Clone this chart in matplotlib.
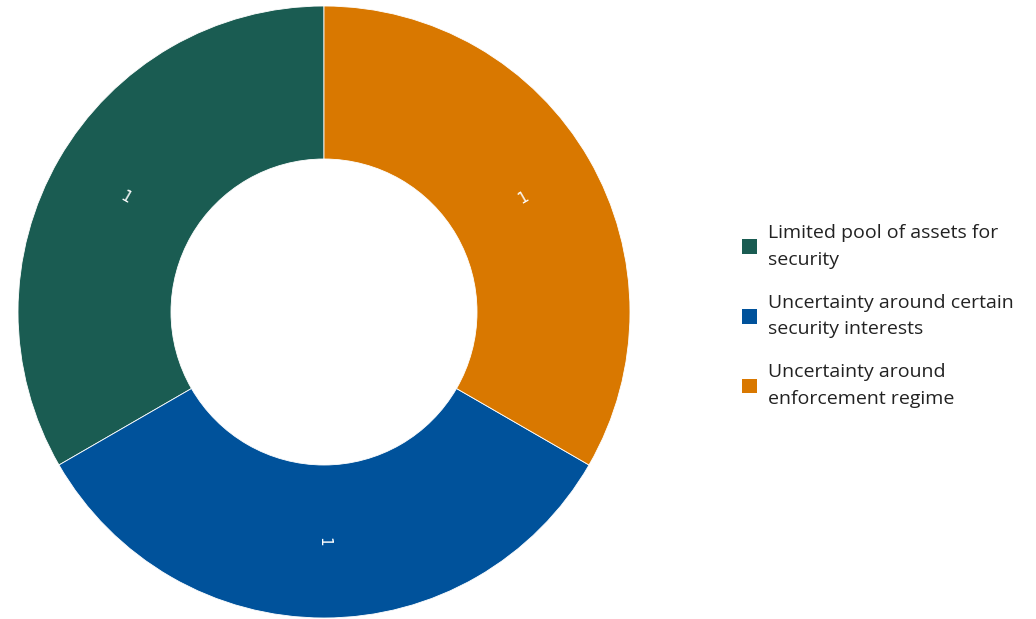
import matplotlib.pyplot as plt
from matplotlib.patches import Patch

categories = ['Limited pool of assets for\nsecurity',
              'Uncertainty around certain\nsecurity interests',
              'Uncertainty around\nenforcement regime']
values = [1, 1, 1]
colors = ['#1a5c52', '#00529b', '#d97800']

fig = plt.figure(figsize=(10.36, 6.19), dpi=100)
W, H = 1036, 619
cx, cy, r = 324, 312, 306
ax = fig.add_axes([(cx - r) / W, (H - cy - r) / H, 2 * r / W, 2 * r / H])

wedges, texts = ax.pie(values, colors=colors, startangle=90, counterclock=True,
                       radius=1, labels=[str(v) for v in values],
                       labeldistance=0.75, rotatelabels=True,
                       wedgeprops=dict(width=0.5, edgecolor='white', linewidth=0.6))
for t in texts:
    t.set_color('white')
    t.set_fontsize(11)
    t.set_ha('center')
    t.set_va('center')
ax.set_xlim(-1, 1)
ax.set_ylim(-1, 1)
ax.set_aspect('equal')
ax.axis('off')

handles = [Patch(facecolor=c, edgecolor='none') for c in colors]
leg = fig.legend(handles, categories, loc='center left', bbox_to_anchor=(724 / W, 1 - 316 / H),
                 frameon=False, prop={'family': 'Open Sans', 'size': 14},
                 handlelength=0.78, handleheight=0.78, handletextpad=0.6, labelspacing=1.3,
                 labelcolor='#222222')
for t in leg.get_texts():
    t.set_linespacing(1.6)

fig.savefig('out.png', dpi=100)
